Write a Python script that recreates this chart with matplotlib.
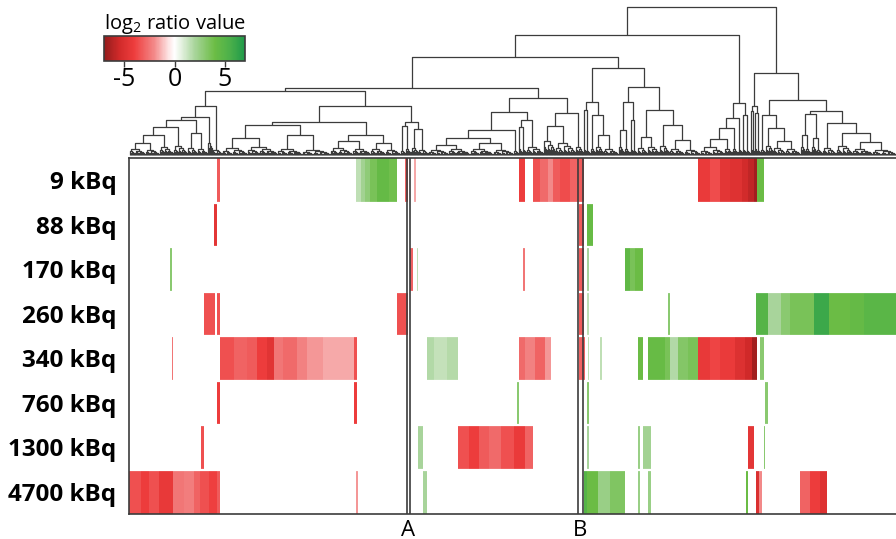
import numpy as np
import matplotlib
matplotlib.use('Agg')
from matplotlib import pyplot as plt
from matplotlib.collections import LineCollection
import matplotlib.colors as mcolors
import matplotlib.cm as cm

plt.rcParams['font.family'] = ['Open Sans', 'DejaVu Sans']
plt.rcParams['mathtext.fontset'] = 'custom'
plt.rcParams['mathtext.rm'] = 'Open Sans'
plt.rcParams['axes.unicode_minus'] = False

# ---- data ----
doses = ['9 kBq', '88 kBq', '170 kBq', '260 kBq', '340 kBq', '760 kBq', '1300 kBq', '4700 kBq']
n_genes = 767

# (first gene, last gene + 1, log2 ratio) for each coloured run of genes
blocks_9 = [(88, 91, -3.2), (227, 232, 1.5), (232, 236, 2.2), (236, 241, 2.8), (241, 248, 3.5),
            (248, 260, 4.3), (260, 268, 3.8), (276, 279, -3.0), (285, 287, -1.5), (389, 395, -4.0),
            (403, 410, -3.5), (410, 418, -2.8), (418, 423, -2.0), (423, 430, -3.2), (430, 440, -3.6),
            (440, 449, -3.0), (449, 454, -3.2), (568, 580, -4.2), (580, 590, -3.6), (590, 600, -4.5),
            (600, 612, -4.8), (612, 618, -5.4), (618, 624, -5.9), (624, 627, -6.6), (627, 634, 4.0)]
blocks_88 = [(85, 88, -4.5), (449, 454, -3.2), (457, 463, 4.2)]
blocks_170 = [(41, 43, 3.0), (281, 284, -3.0), (288, 289, 1.5), (393, 395, -2.5), (449, 454, -3.2),
              (457, 459, 2.0), (495, 500, 4.5), (500, 505, 3.5), (505, 513, 4.0)]
blocks_260 = [(75, 86, -3.5), (88, 91, -3.5), (268, 279, -3.5), (449, 454, -3.2), (457, 459, 1.5),
              (538, 540, 3.0), (626, 638, 5.0), (638, 651, 2.0), (651, 660, 3.0), (660, 684, 3.5),
              (684, 699, 6.0), (699, 720, 4.0), (720, 734, 4.3), (734, 767, 4.8)]
blocks_340 = [(43, 44, -2.5), (91, 105, -3.5), (105, 118, -3.0), (118, 128, -3.2), (128, 138, -4.0),
              (138, 145, -4.6), (145, 154, -2.5), (154, 168, -2.8), (168, 178, -2.2), (178, 194, -1.8),
              (194, 225, -1.5), (225, 228, -3.5), (298, 305, 1.8), (305, 318, 1.4), (318, 329, 1.7),
              (389, 395, -2.8), (395, 405, -2.2), (405, 415, -3.0), (415, 421, -1.8), (449, 455, -3.0),
              (458, 459, 1.5), (470, 472, 1.5), (508, 513, 4.0), (518, 535, 4.2), (535, 540, 3.5),
              (540, 548, 1.8), (548, 558, 3.2), (558, 568, 3.5), (568, 580, -4.3), (580, 590, -3.8),
              (590, 605, -4.2), (605, 615, -4.9), (615, 622, -5.5), (622, 627, -6.6), (630, 634, 3.0)]
blocks_760 = [(88, 91, -4.0), (225, 228, -4.0), (387, 389, 3.0), (457, 459, 3.0), (635, 638, 3.0)]
blocks_1300 = [(72, 75, -3.5), (289, 294, 2.0), (329, 340, -3.5), (340, 350, -4.0), (350, 360, -3.2),
               (360, 372, -2.8), (372, 385, -3.5), (385, 395, -4.2), (395, 403, -3.0), (457, 459, 2.0),
               (508, 510, 2.5), (513, 521, 2.2), (618, 624, -4.5), (634, 635, 3.0)]
blocks_4700 = [(0, 12, -3.5), (12, 20, -4.0), (20, 30, -3.5), (30, 44, -4.3), (44, 55, -2.5),
               (55, 65, -2.3), (65, 71, -3.0), (71, 80, -3.5), (80, 88, -3.9), (88, 91, -3.2),
               (227, 229, -1.8), (294, 298, 2.0), (454, 457, 5.0), (457, 468, 4.0), (468, 480, 2.5),
               (480, 495, 3.3), (508, 510, 2.5), (518, 521, 2.5), (616, 618, 4.0), (626, 629, -5.0),
               (629, 632, -2.0), (670, 680, -3.0), (680, 690, -4.0), (690, 697, -4.8)]
row_blocks = [blocks_9, blocks_88, blocks_170, blocks_260, blocks_340, blocks_760, blocks_1300, blocks_4700]

# cluster boundaries (gene index of the two lines) and their labels
marks = {'A': (278, 281), 'B': (449, 454)}

# dendrogram: [merge height, left, right]; (leaf count, height) is a small low cluster
tree_L = [49, [38, [35, [28, [20, [12, (16, 6), (14, 5)], (14, 8)], (14, 9)],
                    [22, (10, 7), (10, 6)]], (5, 12)], (10, 5)]
tree_M = [49, [33, [30, [17, (25, 7), (30, 8)], [20, (25, 6), (28, 5)]],
                   [20, [14, (22, 7), (18, 6)], [12, (15, 6), (15, 5)]]],
              [33, [29, (5, 4), (6, 6)], [26, (7, 7), (10, 5)]]]
tree_E = [57, [43, [25, [17, [10, (20, 5), (22, 6)], [12, (23, 6), (20, 5)]], (5, 4)],
                   [35, [28, (4, 6), (4, 5)], (17, 8)]],
              [42, [29, (12, 14), (20, 12)], (8, 8)]]
tree_U = [87, [53, [45, (3, 5), (4, 4)], [40, (5, 6), [20, (8, 8), (15, 6)]]],
              [68, [53, [25, (6, 8), (6, 6)], [35, (3, 5), (4, 4)]],
                   [45, [18, (10, 7), (12, 8)], [30, (10, 9), [15, (15, 6), (16, 5)]]]]]
tree_T = [52, [37, [27, [16, [8, (12, 4), (12, 5)], (8, 6)], (6, 6)], (4, 5)], [40, (4, 5), (4, 4)]]
tree_Q = [82, [49, [44, (2, 5), (2, 4)], [42, (3, 6), (3, 4)]],
              [55, [40, (5, 5), [27, (8, 9), [14, (12, 7), (15, 6)]]],
                   [44, [41, [20, (5, 8), (6, 6)], [17, (5, 8), (6, 5)]],
                        [32, (14, 7), [22, (16, 9), [13, (20, 6), (24, 5)]]]]]]
tree = [148, [120, [98, [67, [64, tree_L, tree_M], tree_E], tree_U], tree_T], tree_Q]

# ---- colour map ----
cmap_stops = [-7, -5.5, -4, -2, -0.6, 0, 0.6, 2, 4, 5.5, 7]
cmap_colors = ['#931c1c', '#d12a2a', '#ee3d3d', '#f38a8a', '#fde4e4', '#ffffff',
               '#e8f3e4', '#a9d59c', '#6cbd45', '#4cb04a', '#1f9a4a']
vmin, vmax = -7, 7
cmap = mcolors.LinearSegmentedColormap.from_list(
  'ratio', [((s - vmin) / (vmax - vmin), c) for s, c in zip(cmap_stops, cmap_colors)])
cmap.set_bad('white')
norm = mcolors.Normalize(vmin, vmax)

line_color = '#3c3c3c'


#small low clusters drawn as a comb of ever lower merges
def draw_bush(segs, start, n, h):
  if n == 1:
    return start + 0.5, 0.0, 1
  k = max(1, (n * 2) // 5)
  xl, hl, _ = draw_bush(segs, start, k, h * 0.6)
  xr, hr, _ = draw_bush(segs, start + k, n - k, h * 0.75)
  segs.append([(xl, hl), (xl, h), (xr, h), (xr, hr)])
  return (xl + xr) / 2, h, n


#walks the tree, returns x position, height and number of leaves
def draw_tree(segs, node, start):
  if isinstance(node, tuple):
    return draw_bush(segs, start, node[0], node[1])
  h = node[0]
  xl, hl, nl = draw_tree(segs, node[1], start)
  xr, hr, nr = draw_tree(segs, node[2], start + nl)
  segs.append([(xl, hl), (xl, h), (xr, h), (xr, hr)])
  return (xl + xr) / 2, h, nl + nr


W, H = 896, 539
fig = plt.figure(figsize=(W / 100, H / 100), dpi=100)

def px_axes(x0, y0, x1, y1):
  return fig.add_axes([x0 / W, 1 - y1 / H, (x1 - x0) / W, (y1 - y0) / H])

# ---- heatmap ----
values = np.full((len(doses), n_genes), np.nan)
for i, blocks in enumerate(row_blocks):
  for s, e, v in blocks:
    values[i, s:e] = v

ax = px_axes(129, 158, 896 + 2, 514)
ax.imshow(np.ma.masked_invalid(values), cmap=cmap, norm=norm, aspect='auto',
          interpolation='nearest', extent=(0, n_genes, len(doses), 0))
for r in range(1, len(doses)):
  ax.axhline(r, color='white', lw=1.6)
for name, (a, b) in marks.items():
  ax.axvline(a, color=line_color, lw=1.2)
  ax.axvline(b, color=line_color, lw=1.2)
  ax.annotate(name, xy=((a + b) / 2, 0), xycoords=('data', 'axes fraction'),
              xytext=(0, -4), textcoords='offset points', ha='center', va='top', fontsize=16)
ax.set_xlim(0, n_genes + 2)
ax.set_ylim(len(doses), 0)
ax.set_xticks([])
ax.set_yticks(np.arange(len(doses)) + 0.5)
ax.set_yticklabels(doses, fontsize=17.5, fontweight='bold')
ax.tick_params(axis='y', length=0, pad=9)
for side in ['left', 'top', 'bottom']:
  ax.spines[side].set_color(line_color)
  ax.spines[side].set_linewidth(1.2)
ax.spines['right'].set_visible(False)

# ---- dendrogram ----
dax = px_axes(129, 5, 896 + 2, 157)
segs = []
draw_tree(segs, tree, 0)
dax.add_collection(LineCollection(segs, colors=line_color, linewidths=0.9))
dax.set_xlim(0, n_genes + 2)
dax.set_ylim(-2, 150)
dax.axis('off')

# ---- colour bar ----
cax = px_axes(104, 36, 245, 61)
cb = fig.colorbar(cm.ScalarMappable(norm=norm, cmap=cmap), cax=cax,
                  orientation='horizontal', ticks=[-5, 0, 5])
cb.ax.tick_params(labelsize=18, length=4, width=1, pad=0, color=line_color)
cb.outline.set_edgecolor(line_color)
cb.outline.set_linewidth(1.2)
cax.set_title(r'log$_\mathregular{2}$ ratio value', fontsize=14.5, loc='left', pad=2)

fig.savefig('out.png', dpi=100)
